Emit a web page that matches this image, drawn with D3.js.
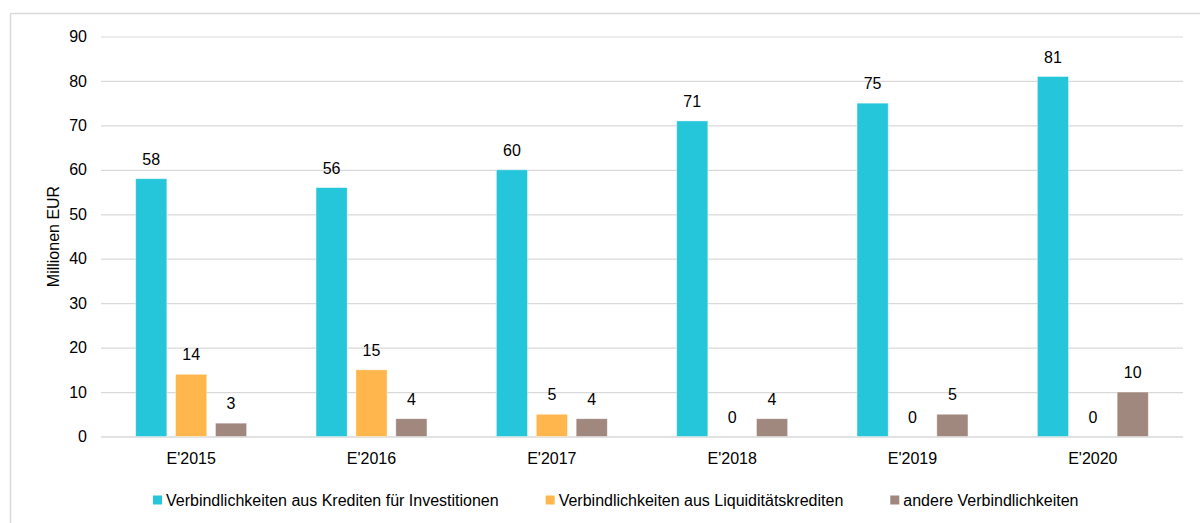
<!DOCTYPE html>
<html>
<head>
<meta charset="utf-8">
<script src="https://cdn.jsdelivr.net/npm/d3@7"></script>
<style>
  body { margin: 0; background: #fff; }
  text { font-family: "Liberation Sans", Arial, sans-serif; }
</style>
</head>
<body>
<div id="chart"></div>
<script>
// Data
var categories = ["E'2015", "E'2016", "E'2017", "E'2018", "E'2019", "E'2020"];
var seriesNames = [
    "Verbindlichkeiten aus Krediten für Investitionen",
    "Verbindlichkeiten aus Liquiditätskrediten",
    "andere Verbindlichkeiten"
];
var kredite = [58, 56, 60, 71, 75, 81];
var liquiditaet = [14, 15, 5, 0, 0, 0];
var andere = [3, 4, 4, 4, 5, 10];
var yTicks = [0, 10, 20, 30, 40, 50, 60, 70, 80, 90];
var colors = ["#26c6da", "#ffb74d", "#a1887f"];

var seriesValues = [kredite, liquiditaet, andere];
var fontSize = "16px";

// Set the dimensions of the svg
var svgWidth = 1200;
var svgHeight = 523;
var margin = {top: 36.5, right: 17, bottom: 86.5, left: 101};
var graphWidth = svgWidth - margin.left - margin.right;
var graphHeight = svgHeight - margin.top - margin.bottom;

var svg = d3.select("#chart")
    .append("svg")
        .attr("width", svgWidth)
        .attr("height", svgHeight);

// outer frame
svg.append("rect")
    .attr("x", 10.5)
    .attr("y", 13.5)
    .attr("width", svgWidth + 20)
    .attr("height", svgHeight + 20)
    .attr("fill", "none")
    .attr("stroke", "#d9d9d9")
    .attr("stroke-width", 1.5);

var g = svg.append("g")
    .attr("transform", "translate(" + margin.left + "," + margin.top + ")");

// scales
var x0 = d3.scaleBand()
    .domain(categories)
    .range([0, graphWidth]);

var x1 = d3.scaleBand()
    .domain(d3.range(seriesNames.length))
    .range([0, x0.bandwidth()])
    .paddingInner(0.22)
    .paddingOuter(0.87);

var y = d3.scaleLinear()
    .domain([0, 90])
    .range([graphHeight, 0]);

// gridlines + y labels
var yAxis = g.append("g")
    .call(d3.axisLeft(y).tickValues(yTicks).tickSize(-graphWidth).tickPadding(14));
yAxis.select(".domain").remove();
yAxis.selectAll(".tick line")
    .attr("stroke", "#d9d9d9")
    .attr("stroke-width", function(d){ return d === 0 ? 1.6 : 1.2 });
yAxis.selectAll(".tick text")
    .attr("font-size", fontSize)
    .attr("fill", "#000")
    .attr("font-family", "Liberation Sans, Arial, sans-serif");

// x labels
var xAxis = g.append("g")
    .attr("transform", "translate(0," + graphHeight + ")")
    .call(d3.axisBottom(x0).tickSize(0).tickPadding(16));
xAxis.select(".domain").remove();
xAxis.selectAll(".tick text")
    .attr("font-size", fontSize)
    .attr("fill", "#000")
    .attr("font-family", "Liberation Sans, Arial, sans-serif");

// flatten into rows for the bars
var rows = [];
categories.forEach(function(c, i) {
    seriesValues.forEach(function(vals, s) {
        rows.push({cat: c, s: s, value: vals[i]});
    });
});

// bars
g.selectAll("rect.bar")
    .data(rows)
    .enter()
    .append("rect")
        .attr("class", "bar")
        .attr("x", function(d){ return x0(d.cat) + x1(d.s) })
        .attr("y", function(d){ return y(d.value) })
        .attr("width", x1.bandwidth())
        .attr("height", function(d){ return graphHeight - y(d.value) })
        .attr("fill", function(d){ return colors[d.s] })
        .attr("stroke", "#fff")
        .attr("stroke-opacity", 0.5)
        .attr("stroke-width", 0.75);

// value labels
g.selectAll("text.val")
    .data(rows)
    .enter()
    .append("text")
        .attr("class", "val")
        .attr("x", function(d){ return x0(d.cat) + x1(d.s) + x1.bandwidth() / 2 })
        .attr("y", function(d){ return y(d.value) - 14 })
        .attr("text-anchor", "middle")
        .attr("font-size", fontSize)
        .attr("fill", "#000")
        .text(function(d){ return d.value });

// y axis title
svg.append("text")
    .attr("transform", "translate(59," + (margin.top + graphHeight / 2) + ") rotate(-90)")
    .attr("text-anchor", "middle")
    .attr("font-size", fontSize)
    .attr("fill", "#000")
    .text("Millionen EUR");

// legend
var legend = svg.append("g")
    .attr("transform", "translate(153,500)");
var lx = 0;
seriesNames.forEach(function(name, i) {
    var item = legend.append("g").attr("transform", "translate(" + lx + ",0)");
    item.append("rect")
        .attr("x", 0)
        .attr("y", -4.5)
        .attr("width", 9)
        .attr("height", 9)
        .attr("fill", colors[i]);
    var t = item.append("text")
        .attr("x", 13)
        .attr("y", 5.5)
        .attr("font-size", fontSize)
        .attr("fill", "#000")
        .text(name);
    lx += 13 + t.node().getComputedTextLength() + 47;
});
</script>
</body>
</html>
